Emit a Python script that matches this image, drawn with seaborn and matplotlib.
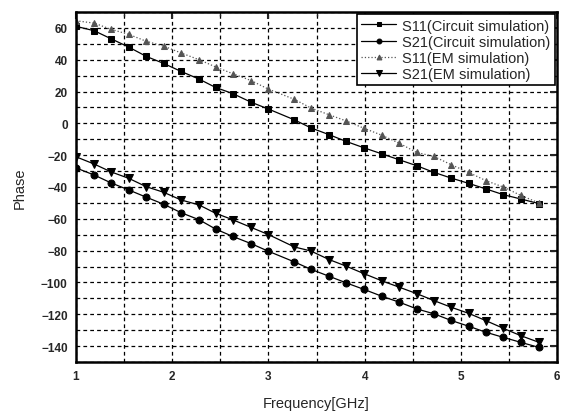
import numpy as np
import pandas as pd
import matplotlib
matplotlib.use("Agg")
import matplotlib.pyplot as plt
import seaborn as sns
from matplotlib.ticker import MultipleLocator

# frequency points (GHz)
freq = [1.00, 1.19, 1.36, 1.55, 1.73, 1.91, 2.09, 2.28, 2.45, 2.63, 2.82, 3.00, 3.27, 3.44,
        3.63, 3.81, 3.99, 4.18, 4.36, 4.54, 4.72, 4.90, 5.08, 5.26, 5.44, 5.62, 5.81]

s11_circuit = [61.0, 58.2, 53.3, 47.9, 42.1, 37.7, 32.7, 27.8, 22.6, 18.7, 13.3, 9.0, 2.2, -2.8,
               -7.1, -11.4, -15.3, -19.2, -22.9, -26.6, -30.8, -34.4, -37.7, -41.2, -44.8, -47.5, -50.4]
s21_circuit = [-28.0, -32.5, -37.3, -41.9, -46.4, -50.8, -56.1, -60.6, -66.4, -71.1, -75.6, -80.4, -87.1, -91.7,
               -96.1, -100.3, -104.3, -108.7, -112.4, -116.6, -119.7, -123.9, -127.5, -131.3, -134.5, -137.6, -140.8]
s11_em = [64.5, 63.0, 59.2, 55.9, 51.6, 48.6, 44.3, 40.0, 35.5, 31.2, 26.9, 21.5, 15.1, 9.7,
          5.4, 1.5, -3.0, -7.5, -12.5, -18.3, -20.8, -26.0, -30.8, -36.0, -40.0, -45.2, -50.0]
s21_em = [-21.0, -25.6, -30.4, -34.6, -39.8, -43.3, -48.1, -51.3, -56.5, -60.6, -65.4, -69.9, -77.7, -80.2,
          -85.6, -89.8, -94.4, -99.0, -103.0, -107.0, -111.4, -115.6, -119.4, -124.0, -128.8, -133.4, -137.6]

labels = ["S11(Circuit simulation)", "S21(Circuit simulation)",
          "S11(EM simulation)", "S21(EM simulation)"]

sns.set_style("white")
plt.rcParams["font.family"] = ["Liberation Sans", "DejaVu Sans"]

fig = plt.figure(figsize=(5.65, 4.14), dpi=100)
ax = fig.add_axes([0.1345, 0.1232, 0.8515, 0.8454])

series = [
    (s11_circuit, "s", "black", "-", 5.0),
    (s21_circuit, "o", "black", "-", 5.0),
    (s11_em, "^", "#555555", ":", 5.0),
    (s21_em, "v", "black", "-", 5.5),
]
for (vals, mk, col, ls, ms), lab in zip(series, labels):
    sns.lineplot(x=freq, y=vals, ax=ax, marker=mk, color=col, linestyle=ls,
                 linewidth=0.9, markersize=ms, markeredgecolor=col, label=lab)

ax.set_xlim(1, 6)
ax.set_ylim(-150, 70)
ax.xaxis.set_major_locator(MultipleLocator(1))
ax.xaxis.set_minor_locator(MultipleLocator(0.5))
ax.yaxis.set_major_locator(MultipleLocator(20))
ax.yaxis.set_minor_locator(MultipleLocator(10))
ax.set_yticks(np.arange(-140, 61, 20))

ax.grid(True, which="both", color="black", linestyle=(0, (3, 2.5)), linewidth=0.9)
ax.tick_params(which="major", direction="in", length=5, width=1.5,
               top=True, right=True, labelsize=8.5, pad=6)
ax.tick_params(which="minor", direction="in", length=3, width=1,
               top=True, right=True)
for t in ax.get_xticklabels() + ax.get_yticklabels():
    t.set_fontweight("bold")
for sp in ax.spines.values():
    sp.set_linewidth(1.8)
    sp.set_color("black")

ax.set_xlabel("Frequency[GHz]", fontsize=10.5, labelpad=10)
ax.set_ylabel("Phase", fontsize=10.5, labelpad=10)

leg = ax.legend(loc="upper right", fontsize=10.5, frameon=True, fancybox=False,
                edgecolor="black", handlelength=2.4, borderpad=0.3,
                labelspacing=0.15, handletextpad=0.4, borderaxespad=0.15,
                markerscale=0.7)
leg.get_frame().set_linewidth(1.2)
leg.get_frame().set_alpha(1)

fig.savefig("out.png", dpi=100)
